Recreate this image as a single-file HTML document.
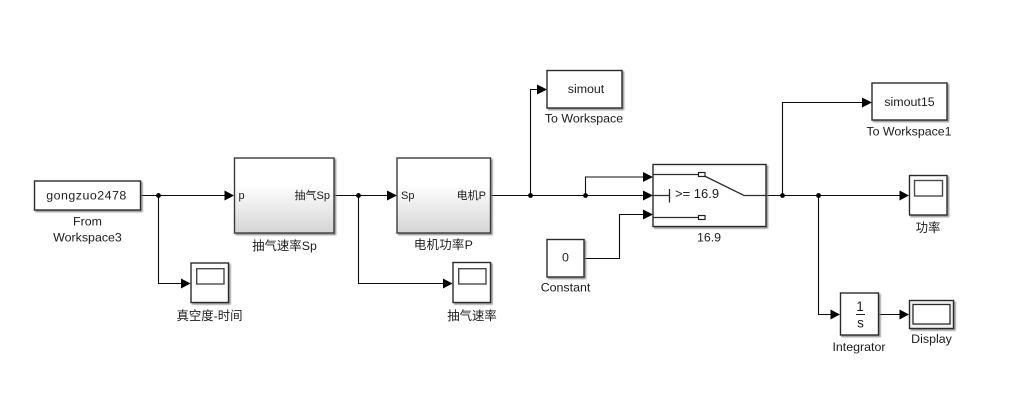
<!DOCTYPE html>
<html><head><meta charset="utf-8">
<style>
html,body{margin:0;padding:0;background:#fff;width:1010px;height:401px;overflow:hidden}
svg{display:block}
text{font-family:"Liberation Sans","Noto Sans CJK SC",sans-serif;font-size:12.4px;fill:#1c1c1c;text-anchor:middle}
.b{fill:#fff;stroke:#2c2c2c;stroke-width:1.4;filter:url(#s)}
.g{fill:url(#grad);stroke:#3a3a3a;stroke-width:1.4;filter:url(#s)}
.l{fill:none;stroke:#0c0c0c;stroke-width:1.1}
.p{fill:#000}
.scr{fill:#fff;stroke:#4a4a4a;stroke-width:1.4}
.sm{font-size:11px}
</style></head><body>
<svg width="1010" height="401" viewBox="0 0 1010 401" xmlns="http://www.w3.org/2000/svg">
<defs>
<linearGradient id="grad" x1="0" y1="0" x2="0" y2="1"><stop offset="0.35" stop-color="#ffffff"/><stop offset="1" stop-color="#d4d4d4"/></linearGradient>
<filter id="s" x="-10%" y="-10%" width="125%" height="125%"><feDropShadow dx="1.5" dy="1.5" stdDeviation="0.8" flood-color="#777" flood-opacity="0.8"/></filter>
</defs>

<!-- connectors -->
<path class="l" d="M141 195.500H225M158.500 195.500V283.500H182M334 195.500H388M358.500 195.500V283.500H445M491 195.500H644M530.500 195.500V89.500H538M585.500 195.500V177H644M584 258.500H619.500V214.500H644M766 195.500H901M782.500 195.500V102.500H863M818.500 195.500V314.500H831M879 314.500H901"/>

<!-- arrowheads -->
<path class="p" d="M224.500 190.500L234 195.500L224.500 200.500Z"/>
<path class="p" d="M181 278.500L190.500 283.500L181 288.500Z"/>
<path class="p" d="M387 190.500L397 195.500L387 200.500Z"/>
<path class="p" d="M443 278.500L452.500 283.500L443 288.500Z"/>
<path class="p" d="M537 84.500L547 89.500L537 94.500Z"/>
<path class="p" d="M643 172L653 177L643 182Z"/>
<path class="p" d="M643 190.500L653 195.500L643 200.500Z"/>
<path class="p" d="M643 209.500L653 214.500L643 219.500Z"/>
<path class="p" d="M862 97.500L872 102.500L862 107.500Z"/>
<path class="p" d="M899.500 190.500L909 195.500L899.500 200.500Z"/>
<path class="p" d="M830.500 309.500L840 314.500L830.500 319.500Z"/>
<path class="p" d="M899.500 309.500L909 314.500L899.500 319.500Z"/>

<!-- junctions -->
<g class="p">
<circle cx="158.500" cy="195.500" r="2.400"/><circle cx="358.500" cy="195.500" r="2.400"/>
<circle cx="530.500" cy="195.500" r="2.400"/><circle cx="585.500" cy="195.500" r="2.400"/>
<circle cx="782.500" cy="195.500" r="2.400"/><circle cx="818.500" cy="195.500" r="2.400"/>
</g>

<!-- From Workspace -->
<rect class="b" x="34.500" y="181" width="106" height="29"/>
<text x="86.500" y="199.500" style="letter-spacing:.5px">gongzuo2478</text>
<text x="87.500" y="225.500">From</text>
<text x="87.500" y="241.500">Workspace3</text>

<!-- Subsystem 1 -->
<rect class="g" x="234.500" y="158" width="99.500" height="75"/>
<text class="sm" x="238.500" y="199" style="text-anchor:start">p</text>
<text class="sm" x="330" y="199" style="text-anchor:end">抽气Sp</text>
<text x="284.500" y="250">抽气速率Sp</text>

<!-- Subsystem 2 -->
<rect class="g" x="397" y="158" width="93.500" height="75"/>
<text class="sm" x="401" y="199" style="text-anchor:start">Sp</text>
<text class="sm" x="486" y="199" style="text-anchor:end">电机P</text>
<text x="443.500" y="249" style="letter-spacing:.3px">电机功率P</text>

<!-- Scope 1 -->
<rect class="b" x="191" y="263" width="37.500" height="39.500"/>
<rect class="scr" x="196.700" y="268.700" width="27.300" height="15.300"/>
<text x="209.500" y="320">真空度-时间</text>

<!-- Scope 2 -->
<rect class="b" x="453" y="262.500" width="37.500" height="40"/>
<rect class="scr" x="458.700" y="268.700" width="27.300" height="15.300"/>
<text x="472" y="320">抽气速率</text>

<!-- To Workspace -->
<rect class="b" x="547" y="70.500" width="75" height="37.500"/>
<text x="586" y="93">simout</text>
<text x="584" y="122.500">To Workspace</text>

<!-- Constant -->
<rect class="b" x="547" y="239.500" width="37" height="37.500"/>
<text x="565.500" y="261.500">0</text>
<text x="565.500" y="291.500">Constant</text>

<!-- Switch -->
<rect class="b" x="653" y="164.500" width="113" height="62"/>
<path fill="none" stroke="#2c2c2c" stroke-width="1.300" d="M653 174.500H698M653 217.500H698M653 195.500H669.500M669.500 189V202.500M703.500 175.500L744 195.500H766"/>
<rect x="698.500" y="172.500" width="6.500" height="4" fill="#fff" stroke="#222" stroke-width="1.200"/>
<rect x="698.500" y="215.500" width="6.500" height="4" fill="#fff" stroke="#222" stroke-width="1.200"/>
<text x="675" y="198" style="text-anchor:start;font-size:13px">&gt;= 16.9</text>
<text x="709" y="241.500">16.9</text>

<!-- simout15 -->
<rect class="b" x="872" y="83" width="75" height="37"/>
<text x="909.500" y="106">simout15</text>
<text x="909" y="135.500">To Workspace1</text>

<!-- Scope 3 -->
<rect class="b" x="909.500" y="175.500" width="37.500" height="39.500"/>
<rect class="scr" x="914.500" y="180.500" width="28" height="15.500"/>
<text x="928" y="232">功率</text>

<!-- Integrator -->
<rect class="b" x="840.500" y="293" width="38" height="42"/>
<text x="860" y="311" style="font-size:13.500px">1</text>
<path d="M856 314.500H865" stroke="#222" stroke-width="1"/>
<text x="860.500" y="327.500" style="font-size:13.500px">s</text>
<text x="859" y="351">Integrator</text>

<!-- Display -->
<rect class="b" x="909.500" y="300.500" width="44" height="28" style="fill:#f1f1f1"/>
<rect x="913" y="304.500" width="37" height="19.500" fill="#fff" stroke="#2c2c2c" stroke-width="1.300"/>
<text x="931.500" y="343">Display</text>
</svg>
</body></html>
